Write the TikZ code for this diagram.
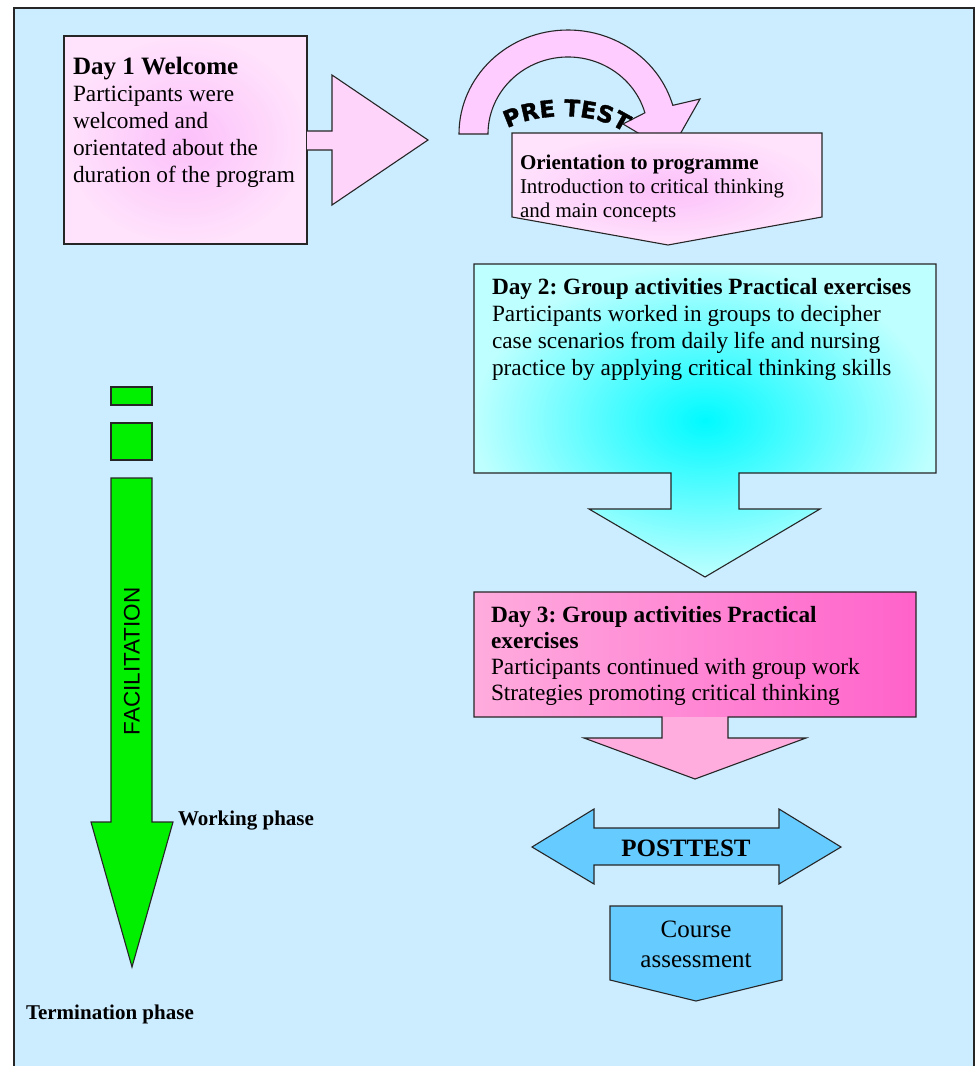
\documentclass[tikz,border=0pt]{standalone}
\usepackage{fontspec}
\setmainfont{Liberation Serif}
\newfontfamily\arialfont{Liberation Sans}
\newfontfamily\heavyfont{DejaVu Sans}[BoldFeatures={FakeBold=1.6}]
\usetikzlibrary{decorations.text}
\definecolor{bgblue}{RGB}{204,236,255}
\definecolor{pinkA}{RGB}{255,204,255}
\definecolor{pinkL}{RGB}{255,226,252}
\definecolor{pinkM}{RGB}{252,192,250}
\definecolor{pinkAr}{RGB}{255,212,250}
\definecolor{cyanC}{RGB}{0,250,255}
\definecolor{cyanL}{RGB}{190,255,255}
\definecolor{magL}{RGB}{255,172,222}
\definecolor{magD}{RGB}{255,98,202}
\definecolor{skyB}{RGB}{102,204,255}
\definecolor{greenF}{RGB}{0,240,0}
\tikzset{
  outl/.style={draw=black!85, line width=1.1pt, line join=miter},
  txt/.style={inner sep=0pt, outer sep=0pt},
}
\frenchspacing
\begin{document}
\begin{tikzpicture}[x=1pt,y=1pt]
\useasboundingbox (0,0) rectangle (976,-1066);
\clip (0,0) rectangle (976,-1066);
\fill[white] (0,0) rectangle (976,-1066);
\draw[fill=bgblue, line width=1.2pt, draw=black!85] (14,-8) rectangle (974,-1080);

% Day 1 welcome box and arrow
\path[outl, inner color=pinkM, outer color=pinkL] (64,-36) rectangle (307,-244);
\path[fill=pinkAr] (307,-131) -- (332,-131) -- (332,-75) -- (428,-140) -- (332,-205) -- (332,-150) -- (307,-150) -- cycle;
\draw[outl] (307,-131) -- (332,-131) -- (332,-75) -- (428,-140) -- (332,-205) -- (332,-150) -- (307,-150);
\node[txt, anchor=base west] (welcome) at (73,-74) {\parbox[t]{260pt}{\raggedright\fontsize{23.3}{27.2}\selectfont{\fontsize{25}{27}\selectfont\bfseries Day 1 Welcome}\\Participants were\\welcomed and\\orientated about the\\duration of the program}};

% curved arrow
\path[outl, fill=pinkA] (459,-134) arc[start angle=180, end angle=16, x radius=109, y radius=104]
  -- (700,-99) -- (670,-152) -- (623,-124)
  -- ([shift={(568,-134)}]16:80 and 77) arc[start angle=16, end angle=180, x radius=80, y radius=77] -- cycle;
\path[decorate, decoration={text along path, text align=center,
  text={|\heavyfont\bfseries\fontsize{23}{23}\selectfont|PRE TEST}}]
  (499,-134) .. controls (524,-113) and (600,-106) .. (632,-139);

% orientation box
\path[outl, inner color=pinkM, outer color=pinkL] (512,-133) -- (822,-133) -- (822,-217) -- (668,-245) -- (512,-217) -- cycle;
\node[txt, anchor=base west] (orient) at (520,-169) {\parbox[t]{300pt}{\raggedright\fontsize{21}{24.4}\selectfont\textbf{Orientation to programme}\\Introduction to critical thinking\\and main concepts}};

% Day 2
\path[outl, inner color=cyanC, outer color=cyanL] (474,-264) -- (936,-264) -- (936,-473) -- (739,-473) -- (739,-509) -- (820,-509) -- (705,-577) -- (589,-509) -- (671,-509) -- (671,-473) -- (474,-473) -- cycle;
\node[txt, anchor=base west] (day2) at (492,-294) {\parbox[t]{440pt}{\raggedright\fontsize{23.3}{27}\selectfont\textbf{Day 2: Group activities Practical exercises}\\Participants worked in groups to decipher\\case scenarios from daily life and nursing\\practice by applying critical thinking skills}};

% Day 3
\path[fill=magL] (474,-592) -- (916,-592) -- (916,-717) -- (728,-717) -- (728,-738) -- (806,-738) -- (695,-779) -- (584,-738) -- (662,-738) -- (662,-717) -- (474,-717) -- cycle;
\shade[left color=magL, right color=magD] (474,-592) rectangle (916,-716);
\draw[outl] (474,-592) -- (916,-592) -- (916,-717) -- (728,-717) -- (728,-738) -- (806,-738) -- (695,-779) -- (584,-738) -- (662,-738) -- (662,-717) -- (474,-717) -- cycle;
\node[txt, anchor=base west] (day3) at (491,-622) {\parbox[t]{420pt}{\raggedright\fontsize{23.3}{26.2}\selectfont\textbf{Day 3: Group activities Practical}\\\textbf{exercises}\\Participants continued with group work\\Strategies promoting critical thinking}};

% posttest
\path[outl, fill=skyB] (532,-847) -- (594,-809) -- (594,-828) -- (779,-828) -- (779,-809) -- (841,-847) -- (779,-884) -- (779,-865) -- (594,-865) -- (594,-884) -- cycle;
\node[txt, anchor=base] (post) at (686,-856) {\fontsize{25}{25}\selectfont\bfseries POSTTEST};

% course assessment
\path[outl, fill=skyB] (610,-906) -- (782,-906) -- (782,-980) -- (696,-1001) -- (610,-980) -- cycle;
\node[txt, anchor=base] (course) at (696,-937) {\parbox[t]{170pt}{\centering\fontsize{25}{30}\selectfont Course\\assessment}};

% green facilitation arrow
\path[outl, fill=greenF] (111,-387) rectangle (152,-405);
\path[outl, fill=greenF] (111,-423) rectangle (152,-460);
\path[outl, fill=greenF] (111,-478) -- (152,-478) -- (152,-822) -- (173,-822) -- (132,-967) -- (91,-822) -- (111,-822) -- cycle;
\node[txt, rotate=90] (facil) at (132,-661.5) {\arialfont\fontsize{22.5}{22.5}\selectfont FACILITATION};
\node[txt, anchor=base west] (working) at (178,-825) {\fontsize{21}{21}\selectfont\bfseries Working phase};
\node[txt, anchor=base west] (termination) at (26,-1019) {\fontsize{21}{21}\selectfont\bfseries Termination phase};
\end{tikzpicture}
\end{document}
